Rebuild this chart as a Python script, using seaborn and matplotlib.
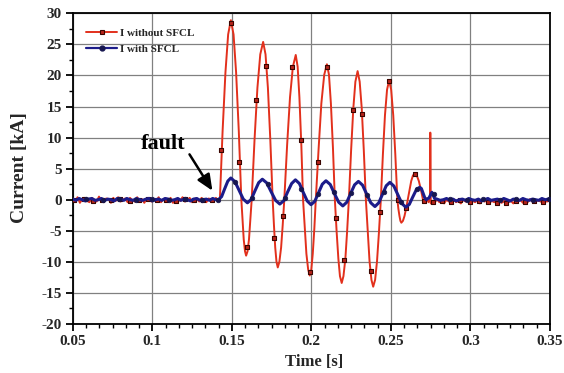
import numpy as np
import pandas as pd
import matplotlib
matplotlib.use("Agg")
import matplotlib.pyplot as plt
import seaborn as sns
from matplotlib.ticker import AutoMinorLocator
from matplotlib.lines import Line2D

# ---------------- data ----------------
x_ticks = [0.05, 0.1, 0.15, 0.2, 0.25, 0.3, 0.35]
x_tick_labels = ["0.05", "0.1", "0.15", "0.2", "0.25", "0.3", "0.35"]
y_ticks = [-20, -15, -10, -5, 0, 5, 10, 15, 20, 25, 30]
y_tick_labels = ["-20", "-15", "-10", "-5", "0", "5", "10", "15", "20", "25", "30"]

series_names = ["I without SFCL", "I with SFCL"]

# I without SFCL: baseline noise before the fault (sampled every 1.5 ms from 0.05 s)
red_pre_start, red_pre_step = 0.05, 0.0015
red_pre_vals = [0.2, -0.3, 0.4, -0.5, 0.1, 0.3, -0.2, -0.4, 0.3, 0.0,
                -0.3, 0.5, -0.1, -0.4, 0.2, 0.1, -0.5, 0.3, -0.2, 0.4,
                -0.3, 0.0, 0.2, -0.4, 0.3, -0.1, -0.3, 0.4, -0.2, 0.1,
                -0.5, 0.2, 0.3, -0.3, 0.0, -0.2, 0.4, -0.4, 0.1, 0.2,
                -0.3, 0.3, -0.5, 0.0, 0.2, -0.2, 0.4, -0.3, -0.1, 0.3,
                -0.4, 0.1, 0.2, -0.3, 0.3, -0.2, -0.4, 0.2, 0.0, -0.3,
                0.3, -0.1]
# I without SFCL: fault waveform
red_fault_t = [0.1425, 0.1442, 0.1460, 0.1477, 0.1494, 0.1511, 0.1527, 0.1544, 0.1560,
               0.1568, 0.1575, 0.1583, 0.1590, 0.1599, 0.1608, 0.1616, 0.1625,
               0.1643, 0.1661, 0.1679, 0.1697, 0.1712, 0.1727, 0.1742, 0.1757,
               0.1765, 0.1773, 0.1781, 0.1789, 0.1799, 0.1810, 0.1820, 0.1830,
               0.1848, 0.1866, 0.1884, 0.1902, 0.1914, 0.1925, 0.1937, 0.1948,
               0.1959, 0.1969, 0.1980, 0.1990, 0.2000, 0.2009, 0.2019, 0.2028,
               0.2046, 0.2063, 0.2081, 0.2098, 0.2111, 0.2123, 0.2136, 0.2148,
               0.2159, 0.2170, 0.2180, 0.2191, 0.2202, 0.2214, 0.2225, 0.2236,
               0.2250, 0.2264, 0.2277, 0.2291, 0.2304, 0.2317, 0.2330, 0.2343,
               0.2355, 0.2366, 0.2378, 0.2389, 0.2401, 0.2413, 0.2425, 0.2437,
               0.2450, 0.2463, 0.2476, 0.2489, 0.2502, 0.2515, 0.2528, 0.2541,
               0.2547, 0.2554, 0.2560, 0.2566, 0.2576, 0.2586, 0.2596, 0.2606,
               0.2617, 0.2628, 0.2639, 0.2650, 0.2663, 0.2676, 0.2689, 0.2702,
               0.2712, 0.2725, 0.2737, 0.2746, 0.2748, 0.2751]
red_fault_v = [0.0, 11.0, 20.5, 26.6, 28.9, 26.6, 20.5, 11.0, 0.0,
               -3.4, -6.4, -8.3, -9.0, -8.3, -6.4, -3.4, 0.0,
               9.7, 18.0, 23.4, 25.4, 23.4, 18.0, 9.7, 0.0,
               -4.1, -7.7, -10.0, -10.9, -10.0, -7.7, -4.1, 0.0,
               8.9, 16.5, 21.4, 23.3, 21.4, 16.5, 8.9, 0.0,
               -4.6, -8.7, -11.2, -12.2, -11.2, -8.7, -4.6, 0.0,
               8.3, 15.5, 20.1, 21.8, 20.1, 15.5, 8.3, 0.0,
               -5.1, -9.5, -12.3, -13.4, -12.3, -9.5, -5.1, 0.0,
               7.9, 14.7, 19.0, 20.7, 19.0, 14.7, 7.9, 0.0,
               -5.3, -9.9, -12.9, -14.0, -12.9, -9.9, -5.3, 0.0,
               7.3, 13.6, 17.7, 19.2, 17.7, 13.6, 7.3, 0.0,
               -1.4, -2.6, -3.4, -3.7, -3.4, -2.6, -1.4, 0.0,
               1.6, 3.0, 3.9, 4.2, 3.9, 3.0, 1.6, 0.0,
               -0.3, 0.2, -0.4, 0.0, 10.8, -0.6]
# I without SFCL: noise after the fault is cleared
red_post_start, red_post_step = 0.2760, 0.0015
red_post_vals = [-0.2, -0.5, 0.1, -0.4, -0.1, -0.6, 0.0, -0.3, -0.5, 0.1,
                 -0.4, -0.2, -0.6, 0.0, -0.3, 0.1, -0.5, -0.2, -0.4, 0.0,
                 -0.6, -0.1, -0.3, 0.1, -0.5, -0.2, -0.4, -0.1, 0.0, -0.5,
                 -0.3, 0.1, -0.4, -0.2, -0.6, -0.1, -0.3, 0.0, -0.5, -0.2,
                 -0.4, 0.1, -0.3, -0.5, -0.1, -0.2, -0.4, 0.0, -0.3, -0.2]
# square markers on I without SFCL
red_mark_t = [0.0510, 0.0568, 0.0625, 0.0683, 0.0741, 0.0799, 0.0857, 0.0915, 0.0972,
              0.1030, 0.1088, 0.1146, 0.1204, 0.1262, 0.1319, 0.1377,
              0.1435, 0.1494, 0.1546, 0.1598, 0.1654, 0.1713, 0.1766, 0.1821, 0.1879,
              0.1933, 0.1989, 0.2041, 0.2100, 0.2156, 0.2208, 0.2264, 0.2319, 0.2375,
              0.2431, 0.2487, 0.2545, 0.2597, 0.2650, 0.2706,
              0.2764, 0.2822, 0.2879, 0.2937, 0.2995, 0.3053, 0.3111, 0.3168, 0.3226,
              0.3284, 0.3342, 0.3400, 0.3458]
red_mark_v = [-0.1, 0.1, -0.2, 0.0, -0.1, 0.1, -0.2, 0.0, 0.1,
              -0.1, 0.0, -0.2, 0.1, 0.0, -0.1, 0.0,
              8.0, 28.5, 6.1, -7.6, 16.0, 21.6, -6.1, -2.6, 21.4,
              9.6, -11.7, 6.1, 21.4, -2.9, -9.7, 14.5, 13.8, -11.5,
              -2.0, 19.1, 0.0, -1.3, 4.2, -0.2,
              -0.3, -0.2, -0.4, -0.1, -0.3, -0.2, -0.4, -0.5, -0.6,
              -0.2, -0.3, -0.2, -0.4]

# I with SFCL
blue_pre_start, blue_pre_step = 0.05, 0.002
blue_pre_vals = [0.1, -0.1, 0.2, 0.0, -0.2, 0.1, 0.2, -0.1, 0.0, 0.2,
                 -0.1, 0.1, 0.0, -0.2, 0.2, 0.1, -0.1, 0.2, 0.0, -0.1,
                 0.2, 0.0, -0.1, 0.1, 0.2, -0.2, 0.0, 0.1, -0.1, 0.2,
                 0.1, -0.1, 0.0, 0.2, -0.1, 0.1, 0.0, -0.2, 0.1, 0.2,
                 -0.1, 0.0, 0.1, -0.1, 0.2, 0.0]
blue_fault_t = [0.1416, 0.1436, 0.1455, 0.1475, 0.1494, 0.1520, 0.1546, 0.1572, 0.1598,
                0.1622, 0.1645, 0.1669, 0.1692, 0.1720, 0.1747, 0.1775, 0.1802,
                0.1827, 0.1851, 0.1876, 0.1900, 0.1925, 0.1949, 0.1974, 0.1998,
                0.2022, 0.2045, 0.2069, 0.2092, 0.2119, 0.2145, 0.2172, 0.2198,
                0.2223, 0.2247, 0.2272, 0.2296, 0.2322, 0.2348, 0.2374, 0.2400,
                0.2424, 0.2447, 0.2471, 0.2494, 0.2519, 0.2544, 0.2569, 0.2594,
                0.2616, 0.2637, 0.2659, 0.2681, 0.2692, 0.2702, 0.2712, 0.2722,
                0.2740, 0.2758, 0.2775]
blue_fault_v = [0.0, 0.5, 1.75, 3.0, 3.5, 2.9, 1.5, 0.1, -0.5,
                0.05, 1.4, 2.75, 3.3, 2.7, 1.3, -0.1, -0.7,
                -0.15, 1.25, 2.6, 3.2, 2.6, 1.2, -0.2, -0.8,
                -0.25, 1.1, 2.5, 3.05, 2.45, 1.0, -0.4, -1.0,
                -0.4, 1.0, 2.4, 2.95, 2.35, 0.9, -0.5, -1.1,
                -0.5, 0.85, 2.25, 2.8, 2.2, 0.8, -0.6, -1.2,
                -0.75, 0.4, 1.55, 2.0, 1.8, 1.1, 0.4, 0.0,
                0.3, 1.2, 0.2]
blue_post_start, blue_post_step = 0.2790, 0.002
blue_post_vals = [0.1, -0.1, 0.0, 0.2, -0.1, 0.1, -0.2, 0.0, 0.1, -0.1,
                  0.2, 0.0, -0.1, 0.1, -0.2, 0.0, 0.2, -0.1, 0.0, 0.1,
                  -0.1, 0.2, 0.0, -0.2, 0.1, 0.0, -0.1, 0.2, 0.0, -0.1,
                  0.1, 0.0, -0.1, 0.2, 0.0, 0.1]
blue_mark_t = [0.0584, 0.0688, 0.0792, 0.0896, 0.1000, 0.1104, 0.1208, 0.1312,
               0.1416, 0.1520, 0.1625, 0.1729, 0.1833, 0.1937, 0.2041, 0.2145,
               0.2249, 0.2353, 0.2457, 0.2561, 0.2665, 0.2769,
               0.2873, 0.2977, 0.3081, 0.3185, 0.3289, 0.3393, 0.3497]
blue_mark_v = [0.1, 0.0, 0.1, -0.1, 0.1, 0.0, 0.1, 0.0,
               0.0, 2.9, 0.2, 2.5, 0.3, 1.8, 1.0, 1.2,
               1.1, 0.8, 1.3, -0.4, 1.7, 0.9,
               0.1, 0.0, 0.1, 0.0, 0.1, 0.0, 0.1]

# ---------------- assemble tables ----------------
def sampled(start, step, vals):
    return list(start + step * np.arange(len(vals)))

red_t = sampled(red_pre_start, red_pre_step, red_pre_vals) + red_fault_t + \
    sampled(red_post_start, red_post_step, red_post_vals)
red_v = red_pre_vals + red_fault_v + red_post_vals
blue_t = sampled(blue_pre_start, blue_pre_step, blue_pre_vals) + blue_fault_t + \
    sampled(blue_post_start, blue_post_step, blue_post_vals)
blue_v = blue_pre_vals + blue_fault_v + blue_post_vals

df_red = pd.DataFrame({"t": red_t, "I": red_v})
df_blue = pd.DataFrame({"t": blue_t, "I": blue_v})
df_red_m = pd.DataFrame({"t": red_mark_t, "I": red_mark_v})
df_blue_m = pd.DataFrame({"t": blue_mark_t, "I": blue_mark_v})

# ---------------- style ----------------
sns.set_theme(style="ticks")
plt.rcParams["font.family"] = ["Liberation Serif", "DejaVu Serif"]
plt.rcParams["font.weight"] = "bold"

RED = "#e2301c"
RED_FACE = "#b5231a"
RED_EDGE = "#3a0500"
BLUE = "#1c1c8a"
BLUE_FACE = "#16164f"

fig = plt.figure(figsize=(5.64, 3.73), dpi=100)
ax = fig.add_axes([0.129, 0.1314, 0.846, 0.8329])

sns.lineplot(data=df_red, x="t", y="I", ax=ax, color=RED, lw=1.4,
             estimator=None, sort=False, zorder=3)
sns.scatterplot(data=df_red_m, x="t", y="I", ax=ax, marker="s", s=10,
                color=RED_FACE, edgecolor=RED_EDGE, linewidth=0.8, zorder=4)
sns.lineplot(data=df_blue, x="t", y="I", ax=ax, color=BLUE, lw=2.2,
             estimator=None, sort=False, zorder=5)
sns.scatterplot(data=df_blue_m, x="t", y="I", ax=ax, marker="o", s=11,
                color=BLUE_FACE, edgecolor=BLUE_FACE, linewidth=0.5, zorder=6)

ax.set_xlim(0.05, 0.35)
ax.set_ylim(-20, 30)
ax.set_xticks(x_ticks)
ax.set_xticklabels(x_tick_labels)
ax.set_yticks(y_ticks)
ax.set_yticklabels(y_tick_labels)
ax.xaxis.set_minor_locator(AutoMinorLocator(6))
ax.yaxis.set_minor_locator(AutoMinorLocator(2))
ax.tick_params(which="major", direction="out", length=5, width=1.3,
               labelsize=11, pad=3, color="black")
ax.tick_params(which="minor", direction="out", length=3, width=1.0, color="black")
for lab in ax.get_xticklabels() + ax.get_yticklabels():
    lab.set_fontweight("bold")

ax.grid(True, which="major", color="#808080", lw=0.9)
ax.set_axisbelow(True)
for sp in ax.spines.values():
    sp.set_visible(True)
    sp.set_color("black")
    sp.set_linewidth(1.3)

ax.set_xlabel("Time [s]", fontsize=12, fontweight="bold")
ax.set_ylabel("Current [kA]", fontsize=14, fontweight="bold")
ax.xaxis.set_label_coords(0.505, -0.097)
ax.yaxis.set_label_coords(-0.094, 0.504)

# fault annotation
ax.text(0.1067, 8.2, "fault", fontsize=16, fontweight="bold", ha="center",
        va="baseline", color="black")
ax.annotate("", xy=(0.1378, 1.45), xytext=(0.1234, 7.3),
            arrowprops=dict(arrowstyle="-|>,head_length=0.8,head_width=0.35",
                            color="black", lw=1.8, mutation_scale=12,
                            shrinkA=0, shrinkB=0))

handles = [
    Line2D([], [], color=RED, lw=1.4, marker="s", ms=3.5, mfc=RED_FACE, mec=RED_EDGE, mew=0.8),
    Line2D([], [], color=BLUE, lw=1.6, marker="o", ms=3.5, mfc=BLUE_FACE, mec=BLUE_FACE),
]
ax.legend(handles, series_names, loc="upper left", bbox_to_anchor=(0.028, 0.953),
          frameon=False, prop={"size": 8, "weight": "bold"}, handlelength=2.8,
          handletextpad=0.25, labelspacing=0.6, borderpad=0, borderaxespad=0)

fig.savefig("out.png", dpi=100)
